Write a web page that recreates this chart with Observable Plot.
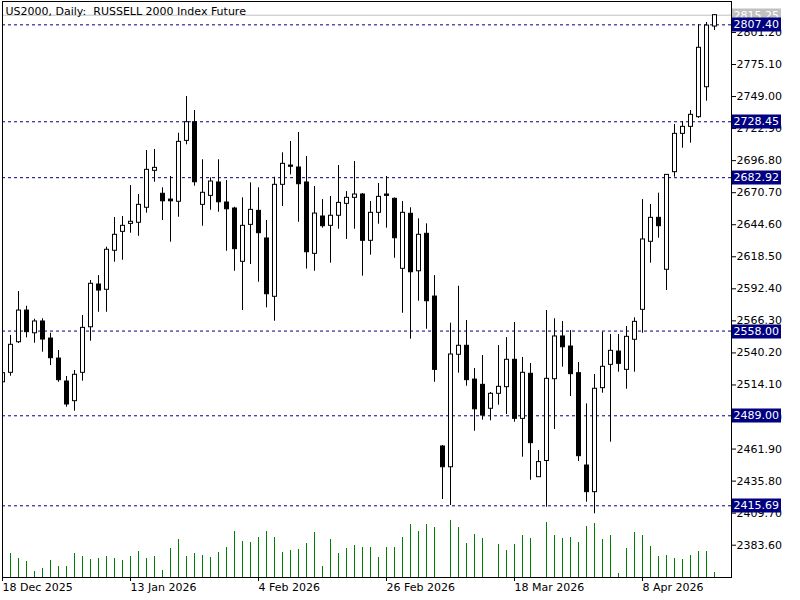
<!DOCTYPE html>
<html>
<head>
<meta charset="utf-8">
<script src="https://cdn.jsdelivr.net/npm/d3@7"></script>
<script src="https://cdn.jsdelivr.net/npm/@observablehq/plot@0.6"></script>
<style>
  html, body { margin: 0; padding: 0; background: #ffffff; }
  #chart { position: relative; width: 800px; height: 600px; overflow: hidden; }
  #chart svg { position: absolute; left: 0; top: 0; }
</style>
</head>
<body>
<div id="chart"></div>
<script>
// ---------------- data ----------------
const title = "US2000, Daily: \u00a0RUSSELL 2000 Index Future";

const open = [2516.3, 2524.0, 2548.9, 2574.7, 2556.2, 2565.8, 2551.9, 2535.6, 2516.9, 2500.9,
  2524.0, 2561.1, 2595.9, 2591.6, 2623.4, 2638.8, 2645.3, 2646.2, 2658.4, 2688.5,
  2669.8, 2665.1, 2663.3, 2712.9, 2728.1, 2660.8, 2668.1, 2679.0, 2662.7, 2657.8,
  2614.4, 2644.5, 2655.9, 2633.4, 2585.9, 2677.1, 2692.8, 2691.2, 2679.0, 2620.9,
  2651.3, 2643.7, 2651.9, 2661.6, 2666.5, 2669.2, 2631.5, 2654.3, 2669.2, 2665.7,
  2608.7, 2653.5, 2606.7, 2637.2, 2586.1, 2464.0, 2447.1, 2538.7, 2546.0, 2518.5,
  2514.2, 2494.7, 2506.9, 2512.3, 2534.6, 2486.5, 2523.2, 2439.0, 2452.2, 2518.8,
  2553.6, 2545.4, 2523.7, 2448.5, 2426.8, 2511.5, 2530.5, 2541.3, 2526.4, 2550.9,
  2575.3, 2630.7, 2650.2, 2607.9, 2687.4, 2718.6, 2724.3, 2732.2, 2756.6, 2806.0];
const high = [2526.7, 2554.4, 2590.2, 2578.2, 2567.6, 2568.0, 2556.2, 2542.2, 2521.0, 2525.9,
  2570.7, 2599.2, 2603.2, 2626.3, 2650.5, 2651.3, 2676.5, 2669.2, 2705.0, 2705.9,
  2674.7, 2683.9, 2719.1, 2749.0, 2737.6, 2697.5, 2682.8, 2697.5, 2680.6, 2658.9,
  2666.5, 2678.7, 2674.7, 2648.0, 2683.3, 2703.2, 2712.4, 2719.7, 2700.1, 2675.7,
  2665.1, 2667.6, 2692.8, 2671.6, 2696.1, 2670.0, 2663.5, 2678.2, 2683.9, 2666.4,
  2663.5, 2658.4, 2649.4, 2645.3, 2603.2, 2464.8, 2564.4, 2594.5, 2566.6, 2527.5,
  2538.1, 2508.0, 2546.2, 2552.7, 2565.0, 2536.5, 2531.6, 2460.7, 2574.7, 2568.0,
  2565.8, 2558.4, 2532.4, 2498.7, 2522.6, 2557.1, 2555.2, 2555.2, 2561.7, 2568.8,
  2665.1, 2661.1, 2670.3, 2685.5, 2726.2, 2728.7, 2737.6, 2807.4, 2809.3, 2815.8];
const low = [2514.5, 2521.2, 2547.9, 2552.5, 2548.1, 2540.8, 2529.9, 2516.3, 2496.0, 2492.7,
  2517.2, 2549.7, 2573.3, 2573.3, 2614.1, 2615.7, 2637.7, 2635.2, 2654.0, 2679.2,
  2648.0, 2630.4, 2650.7, 2709.7, 2676.0, 2643.4, 2656.4, 2654.8, 2623.0, 2606.7,
  2574.7, 2612.2, 2597.8, 2576.9, 2566.0, 2659.4, 2685.2, 2646.6, 2608.5, 2606.7,
  2641.8, 2613.3, 2640.9, 2632.6, 2640.9, 2602.7, 2619.8, 2645.0, 2641.8, 2617.3,
  2572.5, 2551.4, 2582.3, 2559.5, 2516.3, 2420.8, 2415.9, 2523.7, 2513.1, 2476.4,
  2485.4, 2484.9, 2497.6, 2490.0, 2483.8, 2455.3, 2436.5, 2438.7, 2414.5, 2477.8,
  2528.6, 2504.7, 2451.8, 2418.6, 2409.2, 2507.4, 2467.5, 2524.5, 2510.6, 2524.5,
  2556.2, 2613.3, 2633.6, 2591.0, 2683.3, 2706.9, 2711.0, 2731.3, 2745.2, 2802.8];
const close = [2523.7, 2546.8, 2574.7, 2557.1, 2565.8, 2551.1, 2535.9, 2518.0, 2498.2, 2522.4,
  2560.6, 2596.5, 2591.0, 2624.2, 2636.4, 2643.7, 2647.0, 2660.8, 2689.3, 2690.9,
  2663.7, 2663.7, 2712.1, 2728.1, 2679.2, 2670.6, 2679.8, 2662.9, 2657.2, 2624.7,
  2643.7, 2656.7, 2637.7, 2588.0, 2677.1, 2694.2, 2691.8, 2677.6, 2622.2, 2653.7,
  2643.4, 2651.9, 2662.4, 2666.5, 2669.2, 2631.5, 2654.3, 2667.3, 2668.1, 2633.6,
  2654.3, 2605.9, 2636.4, 2582.3, 2526.4, 2447.1, 2538.9, 2546.0, 2518.0, 2494.3,
  2489.2, 2506.9, 2512.6, 2534.6, 2486.5, 2524.0, 2466.7, 2451.3, 2519.1, 2553.6,
  2544.8, 2522.9, 2456.1, 2426.8, 2511.0, 2528.9, 2541.9, 2531.3, 2553.3, 2565.5,
  2632.6, 2650.2, 2643.4, 2685.2, 2718.6, 2724.3, 2734.1, 2788.7, 2806.8, 2815.25];
// tick volume (relative units)
const volume = [22, 24, 19, 16, 6, 9, 17, 11, 11, 24,
  21, 18, 19, 21, 19, 17, 21, 26, 19, 21,
  7, 29, 38, 21, 24, 22, 20, 25, 30, 46,
  36, 35, 40, 46, 40, 25, 27, 28, 34, 45,
  11, 38, 24, 29, 32, 30, 30, 20, 30, 30,
  40, 53, 46, 53, 50, null, 57, 50, 34, 43,
  39, null, 33, 27, 33, 42, 39, null, 55, 42,
  39, 40, 35, 51, 54, 38, 42, 4, 29, 45,
  42, 31, 21, 22, 19, 18, 22, 26, 26, 5];

const dateTickIndex = [0, 16, 32, 48, 64, 80];
const dateTickLabels = ["18 Dec 2025", "13 Jan 2026", "4 Feb 2026", "26 Feb 2026", "18 Mar 2026", "8 Apr 2026"];
const priceTicks = [2801.20, 2775.10, 2749.00, 2722.90, 2696.80, 2670.70, 2644.60, 2618.50, 2592.40,
  2566.30, 2540.20, 2514.10, 2488.00, 2461.90, 2435.80, 2409.70, 2383.60];
const levels = [2807.40, 2728.45, 2682.92, 2558.00, 2489.00, 2415.69];
const lastPrice = 2815.25;

// ---------------- build ----------------
const bars = open.map((o, i) => ({
  i, open: o, high: high[i], low: low[i], close: close[i], volume: volume[i]
}));

const W = 800, H = 600;
const margins = { marginLeft: 2, marginRight: 69, marginTop: 1, marginBottom: 23 };
const xOpts = { domain: [0, bars.length - 1], range: [2, 2 + 8 * (bars.length - 1)] };
const fmt2 = d3.format(".2f");
const font = { fontFamily: "DejaVu Sans", fontSize: "11px", color: "black" };

// price label boxes on the right axis, positioned by the plot's y scale
function priceBoxes(values, bg, fg) {
  return function (...args) {
    let scales, dims;
    if (args[0] && typeof args[0].y === "function") { scales = args[0]; dims = args[1]; }
    else { scales = args[1]; dims = args[3]; }
    const g = d3.create("svg:g");
    const x0 = dims.width - dims.marginRight + 1;
    for (const v of values) {
      const y = Math.round(scales.y(v)) + 0.5;
      g.append("rect").attr("x", x0).attr("y", y - 7).attr("width", 49).attr("height", 14).attr("fill", bg);
      g.append("text").attr("x", x0 + 1.5).attr("y", y).attr("dy", "0.36em")
        .attr("text-anchor", "start")
        .attr("fill", fg).attr("font-family", "DejaVu Sans").attr("font-size", 11).text(fmt2(v));
    }
    return g.node();
  };
}

// volume histogram (own y scale, overlaid at the bottom of the price panel)
const volPlot = Plot.plot({
  width: W, height: H, ...margins,
  style: { ...font, background: "white" },
  x: { ...xOpts, axis: null },
  y: { domain: [0, 100], range: [577, 477], axis: null },
  marks: [
    Plot.ruleX(bars.filter(d => d.volume != null), { x: "i", y1: 0, y2: "volume", stroke: "#008000", clip: true })
  ]
});

const pricePlot = Plot.plot({
  width: W, height: H, ...margins,
  style: { ...font, background: "transparent" },
  x: xOpts,
  y: { domain: [2357.3, 2826.4] },
  marks: [
    Plot.ruleY([lastPrice], { stroke: "#c0c0c0" }),
    Plot.ruleY(levels, { stroke: "#000080", strokeDasharray: "3,3" }),
    Plot.ruleX(bars, { x: "i", y1: "low", y2: "high", stroke: "black", clip: true }),
    Plot.rect(bars, {
      x1: d => d.i - 0.25, x2: d => d.i + 0.25, y1: "open", y2: "close", dx: 0.5,
      fill: d => d.close >= d.open ? "white" : "black", stroke: "black", clip: true
    }),
    Plot.text([title], { frameAnchor: "top-left", lineAnchor: "top", textAnchor: "start", dx: 3, dy: 6, fill: "black", fontSize: 11 }),
    Plot.frame({ stroke: "black" }),
    Plot.axisY({ anchor: "right", ticks: priceTicks, tickFormat: fmt2, tickSize: 4, tickPadding: 1, label: null, fontSize: 11 }),
    Plot.axisX({
      ticks: dateTickIndex, tickFormat: d => dateTickLabels[dateTickIndex.indexOf(d)],
      textAnchor: "start", tickSize: 4, tickPadding: 2, label: null, fontSize: 11
    }),
    priceBoxes([lastPrice], "#c0c0c0", "white"),
    priceBoxes(levels, "#000080", "white")
  ]
});

const chart = document.getElementById("chart");
chart.appendChild(volPlot);
chart.appendChild(pricePlot);
</script>
</body>
</html>
